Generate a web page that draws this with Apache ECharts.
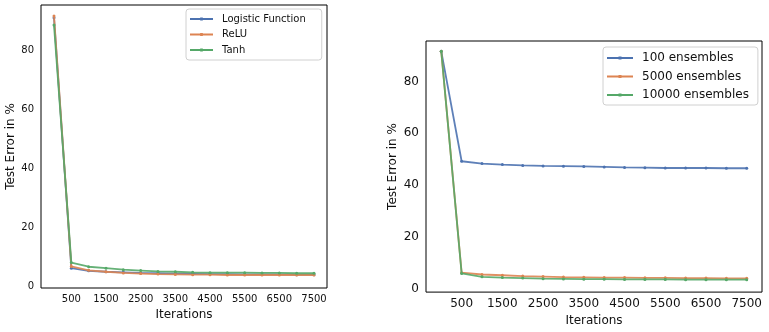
<!DOCTYPE html>
<html>
<head>
<meta charset="utf-8">
<script src="https://cdn.jsdelivr.net/npm/echarts@6/dist/echarts.min.js"></script>
<style>html,body{margin:0;padding:0;background:#fff;}#c{width:769px;height:332px;}</style>
</head>
<body>
<div id="c"></div>
<script>
var iterations = [0,500,1000,1500,2000,2500,3000,3500,4000,4500,5000,5500,6000,6500,7000,7500];
var tickLabels = [500,1500,2500,3500,4500,5500,6500,7500];
var yTicks = [0,20,40,60,80];

var leftNames = ['Logistic Function','ReLU','Tanh'];
var logistic = [91.0,6.2,5.3,5.0,4.8,4.6,4.5,4.4,4.3,4.2,4.2,4.1,4.1,4.1,4.0,4.0];
var relu     = [91.6,6.8,5.5,5.0,4.6,4.4,4.2,4.1,4.0,4.0,3.9,3.9,3.9,3.9,3.9,3.9];
var tanh     = [88.5,8.1,6.7,6.2,5.7,5.4,5.1,5.0,4.8,4.7,4.7,4.7,4.6,4.6,4.5,4.5];

var rightNames = ['100 ensembles','5000 ensembles','10000 ensembles'];
var ens100   = [91.6,49.2,48.3,47.9,47.6,47.4,47.3,47.2,47.0,46.8,46.7,46.6,46.6,46.6,46.5,46.5];
var ens5000  = [91.6,6.2,5.5,5.2,4.9,4.7,4.5,4.4,4.3,4.3,4.2,4.2,4.1,4.1,4.0,4.0];
var ens10000 = [91.6,5.9,4.6,4.3,4.1,3.9,3.8,3.7,3.7,3.6,3.6,3.6,3.5,3.5,3.5,3.5];

var colors = ['#4C72B0','#DD8452','#55A868'];
var FONT = 'DejaVu Sans';
var legendIcon = 'path://M0,0.6 L26,0.6 L26,2.4 L0,2.4 Z M11.5,0 L14.5,0 L14.5,3 L11.5,3 Z';

function pairs(ys){ return iterations.map(function(x,i){ return [x, ys[i]]; }); }
function mkSeries(name, ys, idx, ci){
  return {
    name: name, type: 'line', xAxisIndex: idx, yAxisIndex: idx,
    data: pairs(ys), symbol: 'circle', symbolSize: 3, showSymbol: true,
    color: colors[ci],
    lineStyle: {width: 1.8, color: colors[ci], opacity: 0.9},
    itemStyle: {color: colors[ci]},
    animation: false, z: 2 + ci
  };
}
function xAxis(idx, fs, gap){
  return {
    gridIndex: idx, type: 'value', min: -375, max: 7875,
    name: 'Iterations', nameLocation: 'middle', nameGap: gap,
    nameTextStyle: {fontFamily: FONT, fontSize: 12, color: '#111'},
    axisLine: {show: false}, axisTick: {show: false}, splitLine: {show: false},
    axisLabel: {customValues: tickLabels, formatter: function(v){ return String(v); },
                fontFamily: FONT, fontSize: fs, color: '#111', margin: 6}
  };
}
function yAxis(idx, min, max, fs, gap){
  return {
    gridIndex: idx, type: 'value', min: min, max: max,
    name: 'Test Error in %', nameLocation: 'middle', nameGap: gap, nameRotate: 90,
    nameTextStyle: {fontFamily: FONT, fontSize: 12, color: '#111'},
    axisLine: {show: false}, axisTick: {show: false}, splitLine: {show: false},
    axisLabel: {customValues: yTicks, fontFamily: FONT, fontSize: fs, color: '#111', margin: 7}
  };
}
function legendData(names){ return names.map(function(n){ return {name: n, icon: legendIcon}; }); }

var chart = echarts.init(document.getElementById('c'), null, {renderer: 'canvas'});
chart.setOption({
  animation: false,
  backgroundColor: '#fff',
  grid: [
    {left: 41, right: 442, top: 5, bottom: 44, show: true, borderColor: '#000', borderWidth: 1, containLabel: false},
    {left: 426, right: 7, top: 41, bottom: 39, show: true, borderColor: '#000', borderWidth: 1, containLabel: false}
  ],
  xAxis: [xAxis(0, 10, 19), xAxis(1, 12, 22)],
  yAxis: [yAxis(0, -0.5, 95.3, 10, 24), yAxis(1, -1.3, 95.6, 12, 27)],
  legend: [
    {data: legendData(leftNames), left: 186, top: 9, orient: 'vertical', itemWidth: 23, itemHeight: 3, itemGap: 5.5,
     symbolKeepAspect: false, itemStyle: {borderWidth: 0}, lineStyle: {width: 0},
     padding: [5, 16, 5, 4], borderColor: '#d0d0d0', borderWidth: 1, borderRadius: 3,
     textStyle: {fontFamily: FONT, fontSize: 10, color: '#111', padding: [0,0,0,4]}},
    {data: legendData(rightNames), left: 603, top: 47, orient: 'vertical', itemWidth: 26, itemHeight: 3, itemGap: 6.5,
     symbolKeepAspect: false, itemStyle: {borderWidth: 0}, lineStyle: {width: 0},
     padding: [5, 9, 4, 4], borderColor: '#d0d0d0', borderWidth: 1, borderRadius: 3,
     textStyle: {fontFamily: FONT, fontSize: 12, color: '#111', padding: [0,0,0,4]}}
  ],
  series: [
    mkSeries(leftNames[0], logistic, 0, 0),
    mkSeries(leftNames[1], relu, 0, 1),
    mkSeries(leftNames[2], tanh, 0, 2),
    mkSeries(rightNames[0], ens100, 1, 0),
    mkSeries(rightNames[1], ens5000, 1, 1),
    mkSeries(rightNames[2], ens10000, 1, 2)
  ]
});
</script>
</body>
</html>
